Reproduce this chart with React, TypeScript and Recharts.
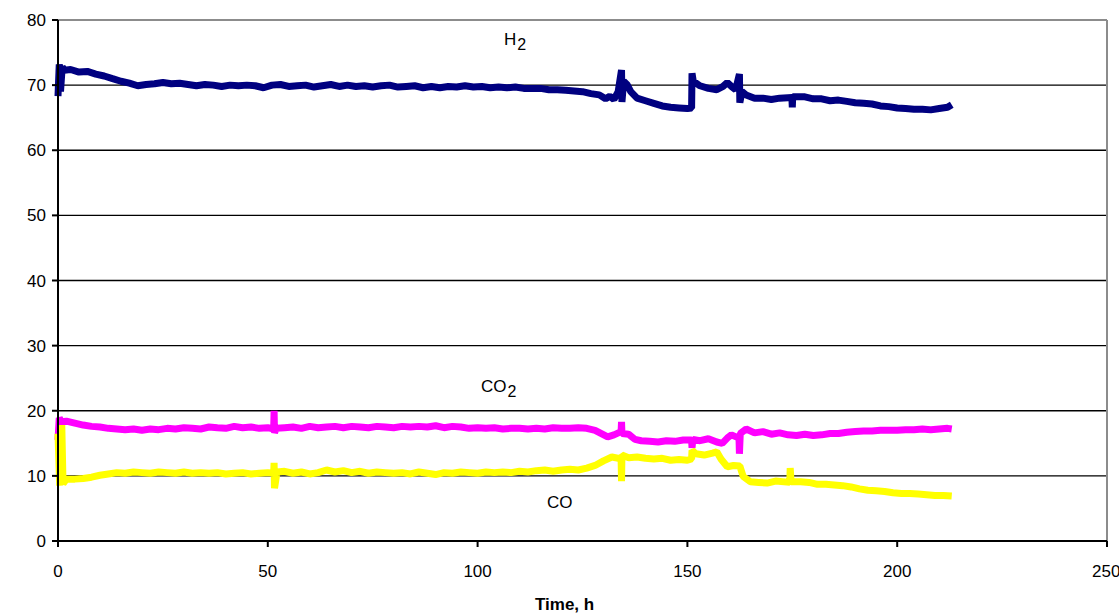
import { LineChart, Line, XAxis, YAxis, CartesianGrid, ReferenceLine } from "recharts";

// [hour, vol %]
const h2Readings: [number, number][] = [
  [0, 68.3], [0.3, 73.2], [0.6, 69], [1, 72.8], [1.5, 72.3], [3, 72.4], [5, 72.0], [7, 72.1],
  [9, 71.7], [11, 71.4], [13, 71.0], [15, 70.6], [17, 70.3], [19, 69.9], [21, 70.1], [23, 70.2],
  [25, 70.4], [27, 70.2], [29, 70.3], [31, 70.1], [33, 69.9], [35, 70.1], [37, 70.0], [39, 69.8],
  [41, 70.0], [43, 69.9], [45, 70.0], [47, 69.9], [49, 69.6], [51, 70.0], [53, 70.1], [55, 69.8],
  [57, 69.9], [59, 70.0], [61, 69.7], [63, 69.9], [65, 70.1], [67, 69.8], [69, 70.0], [71, 69.8],
  [73, 69.9], [75, 69.7], [77, 69.9], [79, 70.0], [81, 69.7], [83, 69.8], [85, 69.9], [87, 69.6],
  [89, 69.8], [91, 69.6], [93, 69.8], [95, 69.7], [97, 69.9], [99, 69.7], [101, 69.8], [103, 69.6],
  [105, 69.7], [107, 69.6], [109, 69.7], [111, 69.5], [113, 69.5], [115, 69.5], [117, 69.3],
  [119, 69.3], [121, 69.2], [123, 69.1], [125, 69.0], [127, 68.7], [129, 68.5], [130.5, 67.9],
  [131.5, 68.3], [132.5, 67.8], [133.5, 69.0], [134.3, 72.3], [134.4, 67.4], [134.8, 70.6],
  [135.6, 70.1], [136.5, 69.0], [138, 68.0], [140, 67.6], [142, 67.2], [144, 66.8], [146, 66.6],
  [148, 66.5], [150, 66.4], [151, 66.5], [151.1, 71.8], [151.4, 70.6], [153, 69.9], [155, 69.5],
  [157, 69.3], [158.5, 69.8], [159.5, 70.4], [160.5, 69.8], [161.5, 69.3], [162.4, 71.7],
  [162.5, 67.3], [163, 69.0], [164, 68.5], [166, 68.0], [168, 68.0], [170, 67.8], [172, 68.0],
  [174.9, 68.1], [175, 66.6], [175.1, 68.2], [178, 68.2], [180, 67.9], [182, 67.9], [184, 67.6],
  [186, 67.7], [188, 67.5], [190, 67.3], [192, 67.2], [194, 67.1], [196, 66.8], [198, 66.7],
  [200, 66.5], [202, 66.4], [204, 66.3], [206, 66.3], [208, 66.2], [210, 66.4], [212, 66.6],
  [213, 67.0],
];

const co2Readings: [number, number][] = [
  [0, 15.5], [0.3, 18.9], [0.8, 18.3], [2, 18.4], [4, 18.1], [6, 17.8], [8, 17.6], [10, 17.5],
  [12, 17.3], [14, 17.2], [16, 17.1], [18, 17.2], [20, 17.0], [22, 17.2], [24, 17.1], [26, 17.3],
  [28, 17.2], [30, 17.4], [32, 17.3], [34, 17.2], [36, 17.5], [38, 17.4], [40, 17.3], [42, 17.6],
  [44, 17.4], [46, 17.5], [48, 17.3], [50, 17.4], [51.4, 17.2], [51.5, 20.0], [51.6, 16.6],
  [52, 17.3], [54, 17.4], [56, 17.5], [58, 17.3], [60, 17.6], [62, 17.4], [64, 17.5], [66, 17.6],
  [68, 17.4], [70, 17.6], [72, 17.5], [74, 17.4], [76, 17.6], [78, 17.5], [80, 17.4], [82, 17.6],
  [84, 17.5], [86, 17.6], [88, 17.5], [90, 17.7], [92, 17.4], [94, 17.6], [96, 17.5], [98, 17.3],
  [100, 17.4], [102, 17.3], [104, 17.4], [106, 17.2], [108, 17.3], [110, 17.3], [112, 17.2],
  [114, 17.3], [116, 17.2], [118, 17.4], [120, 17.3], [122, 17.3], [124, 17.4], [126, 17.3],
  [128, 17.0], [129.5, 16.5], [131, 16.0], [132.5, 16.3], [134.2, 16.8], [134.3, 18.3],
  [134.4, 16.5], [136, 16.4], [137.5, 15.6], [139, 15.4], [141, 15.3], [143, 15.2], [145, 15.4],
  [147, 15.3], [149, 15.5], [151, 15.5], [151.1, 14.3], [151.3, 15.6], [153, 15.4], [155, 15.7],
  [157, 15.2], [158.3, 15.0], [159.5, 15.8], [160.5, 16.3], [162.3, 15.8], [162.4, 13.4],
  [162.6, 16.5], [164, 17.2], [166, 16.6], [168, 16.8], [170, 16.4], [172, 16.6], [174, 16.3],
  [176, 16.2], [178, 16.4], [180, 16.2], [182, 16.3], [184, 16.5], [186, 16.5], [188, 16.7],
  [190, 16.8], [192, 16.9], [194, 16.9], [196, 17.0], [198, 17.0], [200, 17.0], [202, 17.1],
  [204, 17.1], [206, 17.2], [208, 17.1], [210, 17.2], [212, 17.3], [213, 17.2],
];

const coReadings: [number, number][] = [
  [0, 16.5], [0.4, 8.5], [0.9, 17.8], [1.2, 8.8], [2, 9.5], [4, 9.5], [6, 9.6], [8, 9.8],
  [10, 10.1], [12, 10.3], [14, 10.5], [16, 10.4], [18, 10.6], [20, 10.5], [22, 10.4], [24, 10.6],
  [26, 10.5], [28, 10.4], [30, 10.6], [32, 10.4], [34, 10.5], [36, 10.4], [38, 10.5], [40, 10.3],
  [42, 10.4], [44, 10.5], [46, 10.3], [48, 10.4], [50, 10.5], [51.4, 10.4], [51.5, 12.0],
  [51.6, 8.1], [52.2, 10.6], [54, 10.7], [56, 10.4], [58, 10.6], [60, 10.3], [62, 10.5],
  [64, 10.9], [66, 10.6], [68, 10.8], [70, 10.5], [72, 10.7], [74, 10.4], [76, 10.6], [78, 10.5],
  [80, 10.4], [82, 10.5], [84, 10.3], [86, 10.6], [88, 10.4], [90, 10.2], [92, 10.5], [94, 10.4],
  [96, 10.6], [98, 10.5], [100, 10.4], [102, 10.6], [104, 10.5], [106, 10.6], [108, 10.5],
  [110, 10.7], [112, 10.6], [114, 10.8], [116, 10.9], [118, 10.7], [120, 10.9], [122, 11.0],
  [124, 10.9], [126, 11.2], [128, 11.6], [130, 12.3], [132, 12.9], [134.2, 12.6], [134.3, 9.2],
  [134.4, 13.2], [136, 12.8], [138, 12.9], [140, 12.7], [142, 12.6], [144, 12.7], [146, 12.4],
  [148, 12.5], [150, 12.4], [151, 12.6], [151.1, 13.9], [152, 13.4], [154, 13.2], [156, 13.5],
  [157, 13.7], [158, 12.6], [159.5, 11.4], [161, 11.6], [162.5, 11.5], [163.3, 9.9], [165, 9.1],
  [167, 9.0], [169, 8.9], [171, 9.2], [174.4, 9.0], [174.5, 11.2], [174.7, 9.1], [177, 9.1],
  [179, 9.0], [181, 8.7], [183, 8.7], [185, 8.6], [187, 8.5], [189, 8.3], [191, 8.0], [193, 7.8],
  [195, 7.7], [197, 7.6], [199, 7.4], [201, 7.3], [203, 7.3], [205, 7.2], [207, 7.1], [209, 7.0],
  [211, 7.0], [213, 6.9],
];

const xTicks = [0, 50, 100, 150, 200, 250];
const yTicks = [0, 10, 20, 30, 40, 50, 60, 70, 80];
const gridValues = [10, 20, 30, 40, 50, 60, 70];

const toPoints = (rows: [number, number][]) => rows.map(([t, v]) => ({ t, v }));

const font = '"Liberation Sans", Arial, sans-serif';
const tickStyle = { fill: "#000", fontSize: 17, fontFamily: font };
const labelStyle: React.CSSProperties = {
  position: "absolute",
  fontFamily: font,
  fontSize: 17,
  color: "#000",
  lineHeight: 1,
  whiteSpace: "nowrap",
};
const subStyle: React.CSSProperties = { fontSize: 16, position: "relative", top: 5, marginLeft: 1 };

export default function App() {
  return (
    <div style={{ position: "relative", width: 1119, height: 614, background: "#fff" }}>
      <style>{"body{margin:0}"}</style>
      <LineChart width={1119} height={614} margin={{ top: 20, right: 12, left: 0, bottom: 0 }}>
        <CartesianGrid horizontalValues={gridValues} vertical={false} stroke="#000" strokeWidth={1.3} />
        <ReferenceLine y={80} stroke="#8c8c8c" strokeWidth={2} />
        <ReferenceLine x={250} stroke="#8c8c8c" strokeWidth={2} />
        <XAxis
          type="number"
          dataKey="t"
          domain={[0, 250]}
          ticks={xTicks}
          height={73}
          tick={tickStyle}
          tickSize={6}
          tickMargin={18}
          axisLine={{ stroke: "#000", strokeWidth: 2 }}
          tickLine={{ stroke: "#000", strokeWidth: 2 }}
        />
        <YAxis
          type="number"
          domain={[0, 80]}
          ticks={yTicks}
          width={58}
          tick={tickStyle}
          tickSize={6}
          tickMargin={6}
          axisLine={{ stroke: "#000", strokeWidth: 2 }}
          tickLine={{ stroke: "#000", strokeWidth: 2 }}
        />
        <Line data={toPoints(h2Readings)} dataKey="v" stroke="#000080" strokeWidth={7} strokeLinejoin="bevel" dot={false} isAnimationActive={false} />
        <Line data={toPoints(co2Readings)} dataKey="v" stroke="#ff00ff" strokeWidth={7} strokeLinejoin="bevel" dot={false} isAnimationActive={false} />
        <Line data={toPoints(coReadings)} dataKey="v" stroke="#ffff00" strokeWidth={7} strokeLinejoin="bevel" dot={false} isAnimationActive={false} />
      </LineChart>
      <div style={{ ...labelStyle, left: 504, top: 31 }}>
        H<span style={subStyle}>2</span>
      </div>
      <div style={{ ...labelStyle, left: 481, top: 378 }}>
        CO<span style={subStyle}>2</span>
      </div>
      <div style={{ ...labelStyle, left: 547, top: 494 }}>CO</div>
      <div style={{ ...labelStyle, left: 535, top: 596, fontWeight: "bold" }}>Time, h</div>
    </div>
  );
}
